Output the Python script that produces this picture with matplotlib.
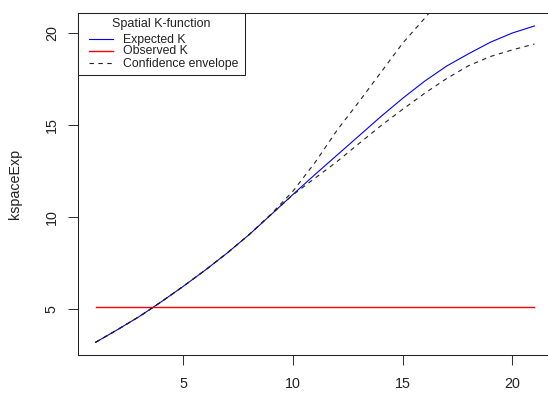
import matplotlib
matplotlib.use("Agg")
import matplotlib.pyplot as plt
from matplotlib.patches import Rectangle
from matplotlib.lines import Line2D
import numpy as np

plt.rcParams['font.family'] = ['Liberation Sans', 'DejaVu Sans']

# distances r
r = [1, 2, 3, 4, 5, 6, 7, 8, 9, 10, 11, 12, 13, 14, 15, 16, 17, 18, 19, 20, 21]
expected_k = [3.17, 3.86, 4.58, 5.38, 6.22, 7.1, 8.03, 9.03, 10.12, 11.22, 12.3,
              13.35, 14.4, 15.45, 16.45, 17.38, 18.2, 18.87, 19.5, 20.0, 20.38]
observed_k = 5.08
lower_env = [3.17, 3.86, 4.58, 5.38, 6.22, 7.1, 8.03, 9.03, 10.12, 11.2, 12.1,
             13.0, 13.98, 14.95, 15.85, 16.72, 17.52, 18.22, 18.72, 19.08, 19.4]
upper_r = [1, 2, 3, 4, 5, 6, 7, 8, 9, 10, 11, 12, 13, 14, 15, 16, 17]
upper_env = [3.17, 3.86, 4.58, 5.38, 6.22, 7.1, 8.03, 9.03, 10.15, 11.4, 12.95,
             14.7, 16.25, 17.85, 19.45, 20.8, 22.2]
xticks = [5, 10, 15, 20]
yticks = [5, 10, 15, 20]
legend_title = 'Spatial K-function'
legend_labels = ['Expected K', 'Observed K', 'Confidence envelope']

BLUE = '#0000FF'
RED = '#FF0000'
DASH = '#222222'

W, H = 548, 393
fig = plt.figure(figsize=(W / 100, H / 100), dpi=100)
ax = fig.add_axes([78 / W, (H - 355) / H, (552 - 78) / W, (355 - 13.3) / H])

xs = np.array(r, dtype=float)
ys = np.array(expected_k)
xpad = 0.04 * (xs.max() - xs.min())
ypad = 0.04 * (ys.max() - ys.min())
ax.set_xlim(xs.min() - xpad, xs.max() + xpad)
ax.set_ylim(ys.min() - ypad, ys.max() + ypad)

LW = 0.8
ax.plot(r, expected_k, color=BLUE, lw=LW, zorder=3)
ax.plot([r[0], r[-1]], [observed_k, observed_k], color=RED, lw=1.0, zorder=3)
ax.plot(r, lower_env, color=DASH, lw=LW, dashes=(4, 4), zorder=4)
ax.plot(upper_r, upper_env, color=DASH, lw=LW, dashes=(4, 4), zorder=4)

ax.set_xticks(xticks)
ax.set_yticks(yticks)
ax.set_yticklabels([str(t) for t in yticks], rotation=90, va='center')
ax.tick_params(axis='both', direction='out', length=7.2, width=0.75,
               colors='#333333', labelsize=10.3, labelcolor='#222222')
ax.tick_params(axis='x', pad=8.5)
ax.tick_params(axis='y', pad=6.6)
for s in ax.spines.values():
    s.set_linewidth(0.75)
    s.set_color('#222222')

ax.set_ylabel('kspaceExp', fontsize=10.3, color='#222222', labelpad=16.5)


# legend drawn in figure pixel layout (top-left origin)
def fx(px):
    return px / W


def fy(py):
    return (H - py) / H


fig.patches.append(Rectangle((fx(78), fy(75)), fx(245) - fx(78), fy(13.3) - fy(75),
                             transform=fig.transFigure, facecolor='white',
                             edgecolor='#222222', lw=0.75, zorder=10))
fig.text(fx(161.5), fy(23.5), legend_title, ha='center', va='center', fontsize=9,
         color='#222222', zorder=11)
styles = [dict(color=BLUE, lw=LW), dict(color=RED, lw=1.0),
          dict(color=DASH, lw=LW, dashes=(4, 4))]
rows = [39.5, 51.5, 63.5]
for lab, st, yy in zip(legend_labels, styles, rows):
    fig.lines.append(Line2D([fx(89), fx(113)], [fy(yy - 1), fy(yy - 1)],
                            transform=fig.transFigure, zorder=11, **st))
    fig.text(fx(123), fy(yy), lab, ha='left', va='center', fontsize=8.8,
             color='#222222', zorder=11)

fig.savefig('out.png', dpi=100)
